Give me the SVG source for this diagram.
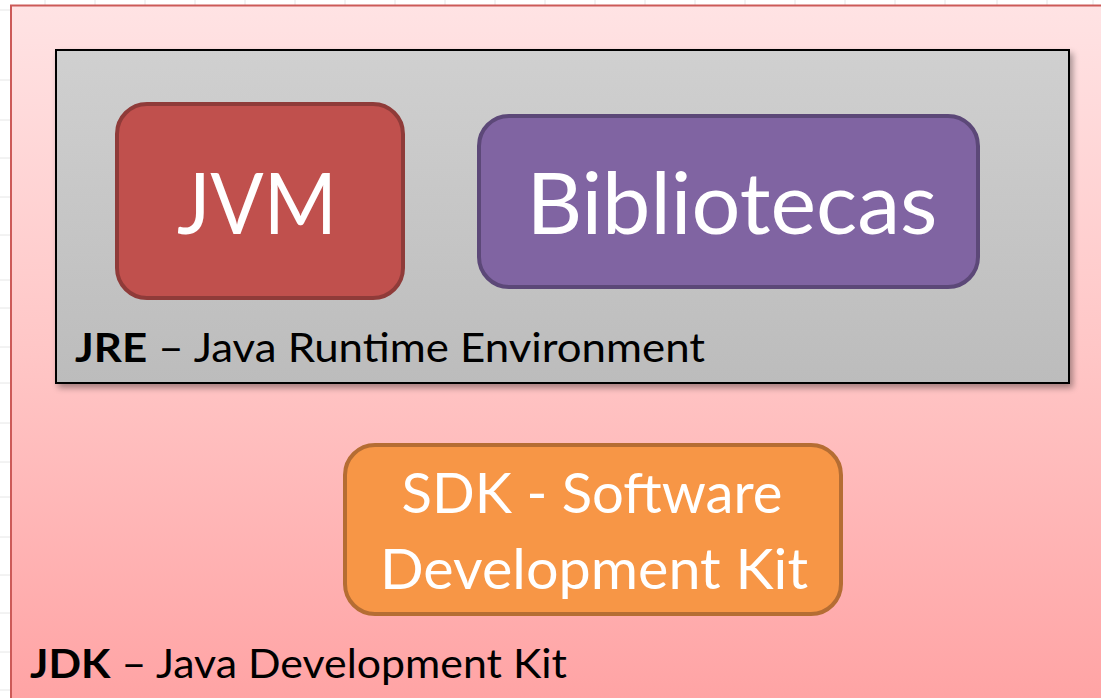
<svg xmlns="http://www.w3.org/2000/svg" width="1101" height="698" viewBox="0 0 1101 698">
<defs>
<linearGradient id="gJdk" x1="0" y1="0" x2="0" y2="1">
<stop offset="0" stop-color="#ffe3e4"/>
<stop offset="0.5" stop-color="#ffc6c6"/>
<stop offset="1" stop-color="#ffa3a4"/>
</linearGradient>
<linearGradient id="gJre" x1="0" y1="0" x2="0" y2="1">
<stop offset="0" stop-color="#d0d0d0"/>
<stop offset="1" stop-color="#bcbcbc"/>
</linearGradient>
<filter id="shadow" x="-5%" y="-5%" width="110%" height="115%">
<feGaussianBlur in="SourceAlpha" stdDeviation="3"/>
<feOffset dx="3" dy="4" result="b"/>
<feComponentTransfer><feFuncA type="linear" slope="0.35"/></feComponentTransfer>
<feMerge><feMergeNode/><feMergeNode in="SourceGraphic"/></feMerge>
</filter>
</defs>
<style>
.grid{stroke:#e6e6e6;stroke-width:1}
.box{stroke-width:4}
.big{font-family:Lato,"Liberation Sans",sans-serif;fill:#ffffff}
.lbl{font-family:Lato,"Liberation Sans",sans-serif;fill:#000000;font-size:40px}
</style>
<rect x="0" y="0" width="1101" height="698" fill="#ffffff"/>
<g id="grid">
<line class="grid" x1="0" y1="10" x2="10" y2="10"/>
<line class="grid" x1="0" y1="80" x2="10" y2="80"/>
<line class="grid" x1="0" y1="120" x2="10" y2="120"/>
<line class="grid" x1="0" y1="158" x2="10" y2="158"/>
<line class="grid" x1="0" y1="197" x2="10" y2="197"/>
<line class="grid" x1="0" y1="235" x2="10" y2="235"/>
<line class="grid" x1="0" y1="280" x2="10" y2="280"/>
<line class="grid" x1="0" y1="308" x2="10" y2="308"/>
<line class="grid" x1="0" y1="347" x2="10" y2="347"/>
<line class="grid" x1="0" y1="383" x2="10" y2="383"/>
<line class="grid" x1="0" y1="423" x2="10" y2="423"/>
<line class="grid" x1="0" y1="462" x2="10" y2="462"/>
<line class="grid" x1="0" y1="497" x2="10" y2="497"/>
<line class="grid" x1="0" y1="537" x2="10" y2="537"/>
<line class="grid" x1="0" y1="575" x2="10" y2="575"/>
<line class="grid" x1="0" y1="613" x2="10" y2="613"/>
<line class="grid" x1="0" y1="652" x2="10" y2="652"/>
<line class="grid" x1="0" y1="690" x2="10" y2="690"/>
<line class="grid" x1="45" y1="0" x2="45" y2="5"/>
<line class="grid" x1="95" y1="0" x2="95" y2="5"/>
<line class="grid" x1="145" y1="0" x2="145" y2="5"/>
<line class="grid" x1="195" y1="0" x2="195" y2="5"/>
<line class="grid" x1="245" y1="0" x2="245" y2="5"/>
<line class="grid" x1="295" y1="0" x2="295" y2="5"/>
<line class="grid" x1="345" y1="0" x2="345" y2="5"/>
<line class="grid" x1="395" y1="0" x2="395" y2="5"/>
<line class="grid" x1="445" y1="0" x2="445" y2="5"/>
<line class="grid" x1="495" y1="0" x2="495" y2="5"/>
<line class="grid" x1="545" y1="0" x2="545" y2="5"/>
<line class="grid" x1="595" y1="0" x2="595" y2="5"/>
<line class="grid" x1="645" y1="0" x2="645" y2="5"/>
<line class="grid" x1="695" y1="0" x2="695" y2="5"/>
<line class="grid" x1="745" y1="0" x2="745" y2="5"/>
<line class="grid" x1="795" y1="0" x2="795" y2="5"/>
<line class="grid" x1="845" y1="0" x2="845" y2="5"/>
<line class="grid" x1="895" y1="0" x2="895" y2="5"/>
<line class="grid" x1="945" y1="0" x2="945" y2="5"/>
<line class="grid" x1="997" y1="0" x2="997" y2="5"/>
<line class="grid" x1="1047" y1="0" x2="1047" y2="5"/>
<line class="grid" x1="1093" y1="0" x2="1093" y2="5"/>
</g>
<g id="jdk">
<rect x="11" y="5.5" width="1100" height="700" fill="url(#gJdk)" stroke="#cc5a58" stroke-width="2"/>
<text class="lbl" x="30" y="678" textLength="537" lengthAdjust="spacingAndGlyphs"><tspan font-weight="bold">JDK</tspan> – Java Development Kit</text>
</g>
<g id="jre">
<rect x="56" y="50" width="1013" height="333" fill="url(#gJre)" stroke="#000000" stroke-width="2" filter="url(#shadow)"/>
<text class="lbl" x="75" y="362" textLength="630" lengthAdjust="spacingAndGlyphs"><tspan font-weight="bold">JRE</tspan> – Java Runtime Environment</text>
</g>
<g id="jvm">
<rect class="box" x="117" y="104" width="286" height="194" rx="30" fill="#c0504d" stroke="#8f3b39"/>
<text class="big" x="257" y="234" font-size="86" text-anchor="middle" textLength="160" lengthAdjust="spacingAndGlyphs">JVM</text>
</g>
<g id="bibliotecas">
<rect class="box" x="479" y="116" width="499" height="171" rx="30" fill="#8064a2" stroke="#5c4878"/>
<text class="big" x="732" y="234" font-size="86" text-anchor="middle" textLength="411" lengthAdjust="spacingAndGlyphs">Bibliotecas</text>
</g>
<g id="sdk">
<rect class="box" x="345" y="445" width="496" height="169" rx="30" fill="#f79646" stroke="#b56d33"/>
<text class="big" x="592" y="513" font-size="57" text-anchor="middle" textLength="381" lengthAdjust="spacingAndGlyphs">SDK - Software</text>
<text class="big" x="594" y="589" font-size="57" text-anchor="middle" textLength="428" lengthAdjust="spacingAndGlyphs">Development Kit</text>
</g>
<g id="connectors"/>
</svg>
